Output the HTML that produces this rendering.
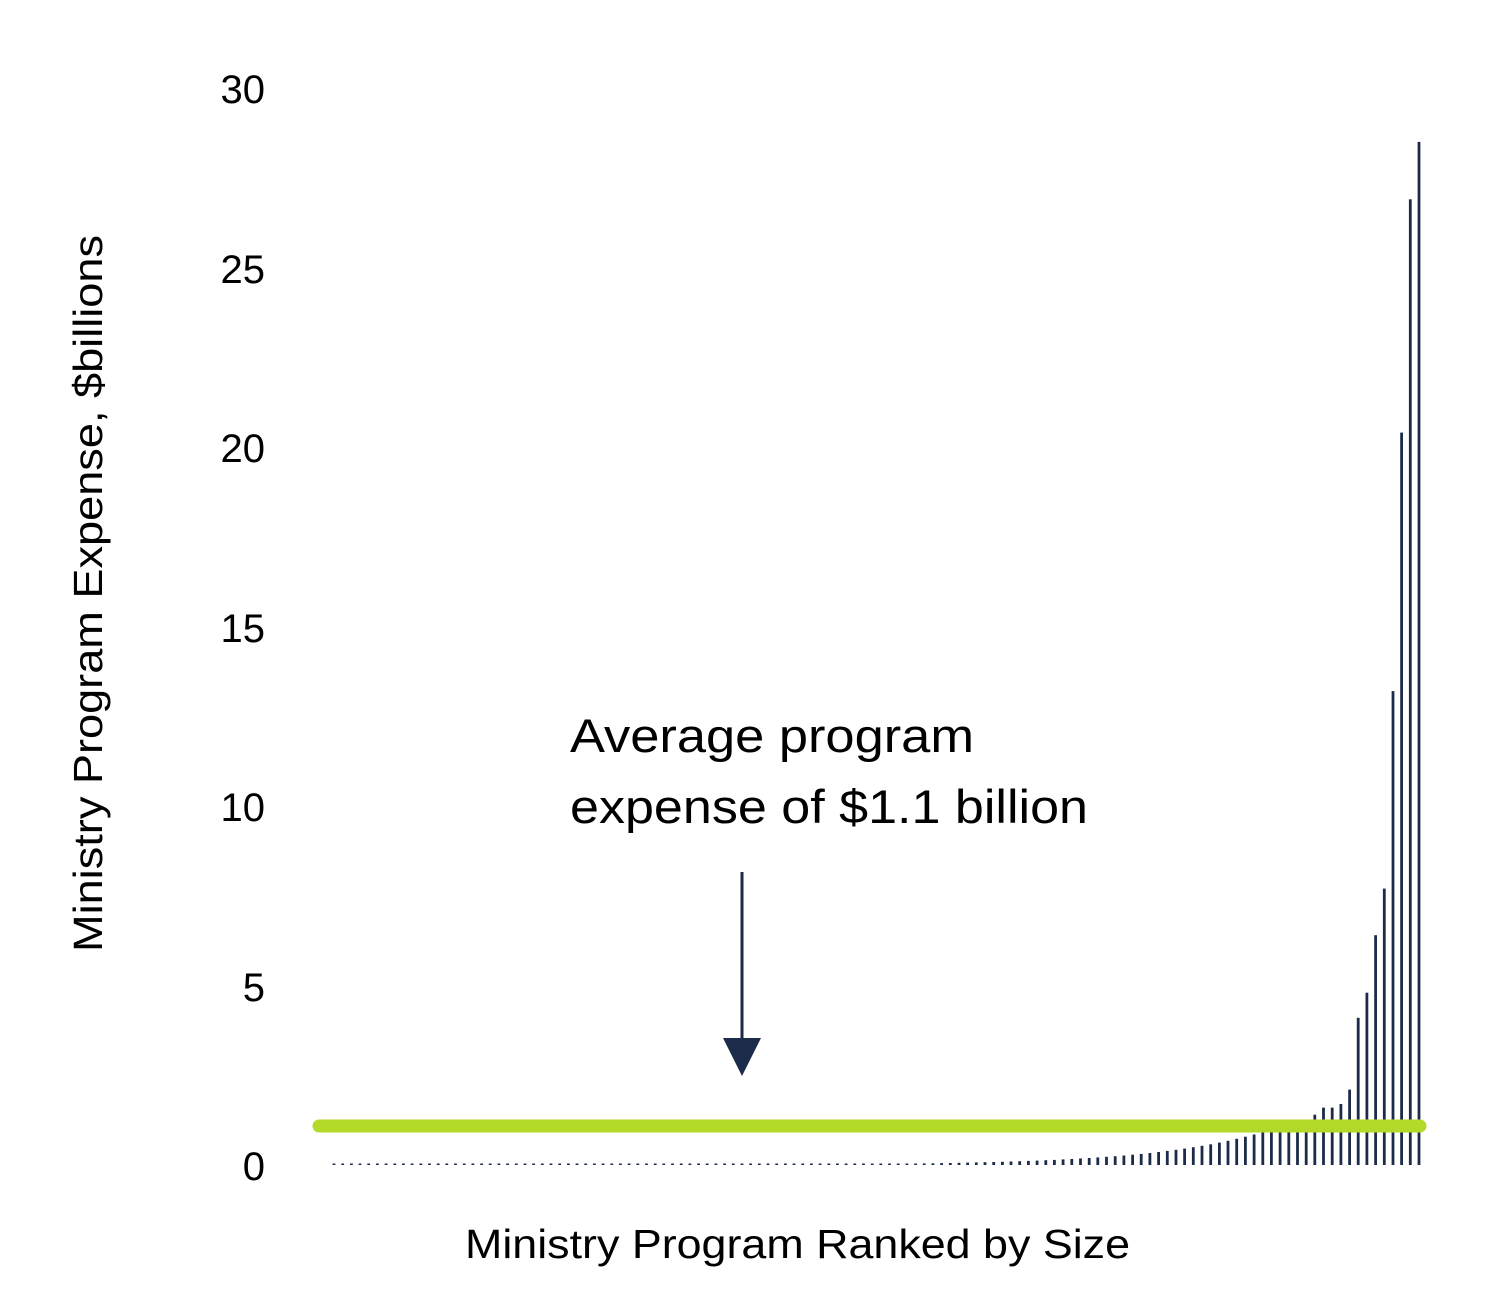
<!DOCTYPE html>
<html><head><style>
body{margin:0;background:#fff;}
svg text{font-family:"Liberation Sans",sans-serif;fill:#000;}
</style></head><body>
<svg width="1500" height="1301" xmlns="http://www.w3.org/2000/svg">
<g font-size="40" text-anchor="end">
<text x="265" y="103">30</text>
<text x="265" y="283">25</text>
<text x="265" y="462">20</text>
<text x="265" y="642">15</text>
<text x="265" y="821">10</text>
<text x="265" y="1001">5</text>
<text x="265" y="1180">0</text>
</g>
<text transform="translate(102,952) rotate(-90)" font-size="41" textLength="717" lengthAdjust="spacingAndGlyphs">Ministry Program Expense, $billions</text>
<text x="465" y="1258" font-size="41" textLength="665" lengthAdjust="spacingAndGlyphs">Ministry Program Ranked by Size</text>
<text x="570" y="752" font-size="47" textLength="404" lengthAdjust="spacingAndGlyphs">Average program</text>
<text x="570" y="823" font-size="47" textLength="518" lengthAdjust="spacingAndGlyphs">expense of $1.1 billion</text>
<line x1="742" y1="872" x2="742" y2="1045" stroke="#1d2b4a" stroke-width="3"/>
<polygon points="723,1038 761,1038 742,1076" fill="#1d2b4a"/>
<g id="bars" fill="#1d2b4a"></g>
<line x1="319" y1="1126" x2="1420" y2="1126" stroke="#b3d929" stroke-width="13" stroke-linecap="round"/>
</svg>
<script>
var g=document.getElementById('bars');
var tops={1419:28.5,1410:26.9,1401:20.4,1393:13.2,1384:7.7,1375:6.4,1367:4.8,1358:4.1,1349:2.1,1341:1.7,1332:1.6,1323:1.6,1315:1.4,1306:1.2,1297:1.15,1289:1.1,1280:1.05,1271:1.0,1263:0.95};
var s='';
for(var i=0;i<126;i++){
 var x=1419-i*8.68;
 var v=null;
 for(var k in tops){if(Math.abs(k-x)<2){v=tops[k];}}
 if(v===null){v=0.85*Math.exp((x-1254)/112);}
 var h=Math.max(1.5,v*35.9);
 s+='<rect x="'+(x-1.4).toFixed(1)+'" y="'+(1165-h).toFixed(1)+'" width="2.8" height="'+h.toFixed(1)+'"/>';
}
g.innerHTML=s;
</script>
</body></html>
